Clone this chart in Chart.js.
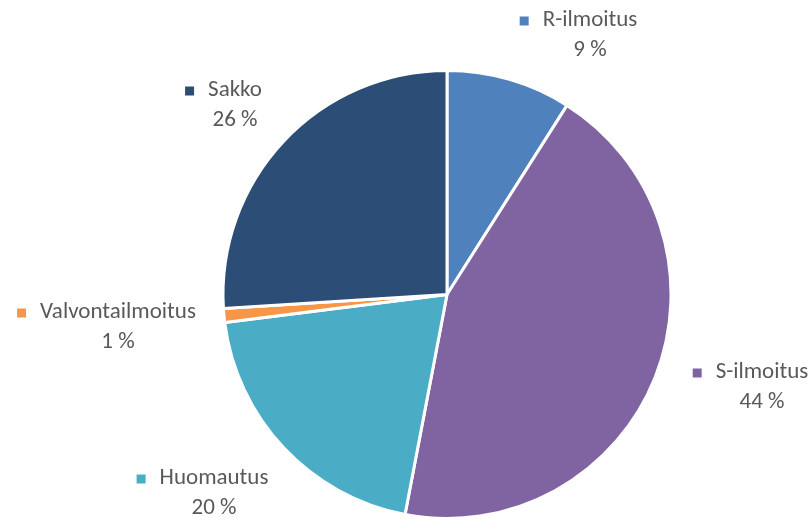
<!DOCTYPE html>
<html>
<head>
<meta charset="utf-8">
<script src="https://cdn.jsdelivr.net/npm/chart.js@4/dist/chart.umd.min.js"></script>
<style>
  html, body { margin: 0; padding: 0; background: #fff; }
  #wrap { width: 812px; height: 520px; position: relative; }
</style>
</head>
<body>
<div id="wrap"><canvas id="pieCanvas"></canvas></div>
<script>
// Jakauma toimenpiteittäin
const categories = ['R-ilmoitus', 'S-ilmoitus', 'Huomautus', 'Valvontailmoitus', 'Sakko'];
const shares = [9, 44, 20, 1, 26];
const sliceColors = ['#4F81BD', '#8064A2', '#4BACC6', '#F79646', '#2C4D75'];

// tekstilohkon keskikohta suhteessa ympyrän keskipisteeseen
const labelOffsets = [[143, -274], [315, 78], [-233, 184], [-329, 18], [-212, -204]];

const labelFont = '23px Carlito, Lato, sans-serif';

const pieLabels = {
    id: 'pieLabels',
    afterDatasetsDraw(chart) {
        const ctx = chart.ctx;
        const arcs = chart.getDatasetMeta(0).data;
        ctx.save();
        ctx.font = labelFont;
        ctx.textBaseline = 'middle';
        ctx.textAlign = 'center';
        arcs.forEach((arc, i) => {
            const cx = arc.x + labelOffsets[i][0];
            const cy = arc.y + labelOffsets[i][1];
            const name = categories[i];
            const w = ctx.measureText(name).width;
            // värineliö nimen vasemmalle puolelle
            ctx.fillStyle = sliceColors[i];
            ctx.fillRect(cx - w / 2 - 23, cy - 4, 9, 9);
            ctx.fillStyle = '#595959';
            ctx.fillText(name, cx, cy);
            ctx.fillText(shares[i] + ' %', cx, cy + 30);
        });
        ctx.restore();
    }
};

new Chart(document.getElementById('pieCanvas'), {
    type: 'pie',
    data: {
        labels: categories,
        datasets: [{
            data: shares,
            backgroundColor: sliceColors,
            borderColor: '#ffffff',
            borderWidth: 3
        }]
    },
    options: {
        responsive: true,
        maintainAspectRatio: false,
        animation: false,
        layout: {
            padding: { top: 69, bottom: -3, left: 220, right: 138 }
        },
        plugins: {
            legend: { display: false },
            tooltip: { enabled: false }
        }
    },
    plugins: [pieLabels]
});
</script>
</body>
</html>
